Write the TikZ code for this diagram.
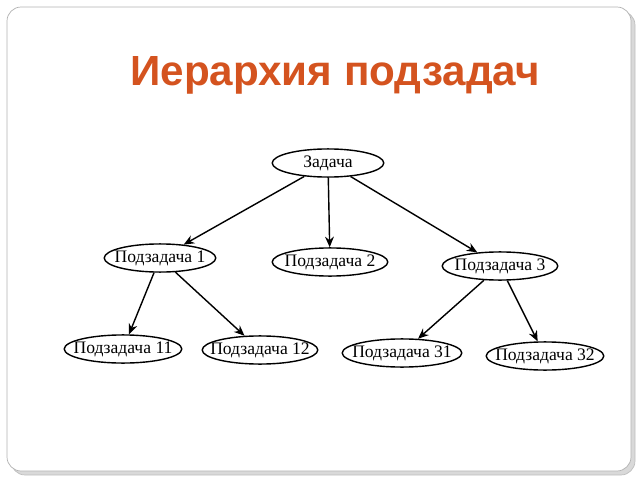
\documentclass[tikz,border=0pt]{standalone}
\usepackage{fontspec}
\setmainfont{Liberation Serif}
\newfontfamily\titlefont{Liberation Sans}
\usetikzlibrary{shapes.geometric,arrows.meta}
\definecolor{titlered}{HTML}{D4531F}
\tikzset{
  task/.style={draw, ellipse, thick, inner xsep=-9pt, inner ysep=1pt, minimum height=16pt, font=\fontsize{10}{12}\selectfont},
  link/.style={-{Stealth[length=6pt,width=5pt]}, thick}
}
\begin{document}
\begin{tikzpicture}[x=0.02cm, y=-0.02cm]
			\useasboundingbox (0,0) rectangle (640,480);
			\draw[gray!50, fill=gray!30, rounded corners=8] (11,11) rectangle (635,475);
			\draw[gray!60, fill=white, rounded corners=8] (7,7) rectangle (631,471);
			\node (title) at (335,75) {\titlefont\bfseries\fontsize{24}{28}\selectfont\color{titlered}Иерархия подзадач};
			\node (t) [task, minimum width=112*0.567pt] at (328,163) {Задача};
			\node (t1) [task, minimum width=112*0.567pt] at (160,258) {Подзадача 1};
			\node (t2) [task, minimum width=116*0.567pt] at (330,262) {Подзадача 2};
			\node (t3) [task, minimum width=116*0.567pt] at (500,266) {Подзадача 3};
			\node (t11) [task, minimum width=118*0.567pt] at (123,349) {Подзадача 11};
			\node (t12) [task, minimum width=116*0.567pt] at (260,350) {Подзадача 12};
			\node (t31) [task, minimum width=120*0.567pt] at (402,353) {Подзадача 31};
			\node (t32) [task, minimum width=118*0.567pt] at (545,356) {Подзадача 32};
			\draw[link] (t) -- (t1);
			\draw[link] (t) -- (t2);
			\draw[link] (t) -- (t3);
			\draw[link] (t1) -- (t11);
			\draw[link] (t1) -- (t12);
			\draw[link] (t3) -- (t31);
			\draw[link] (t3) -- (t32);

		\end{tikzpicture}
\end{document}
